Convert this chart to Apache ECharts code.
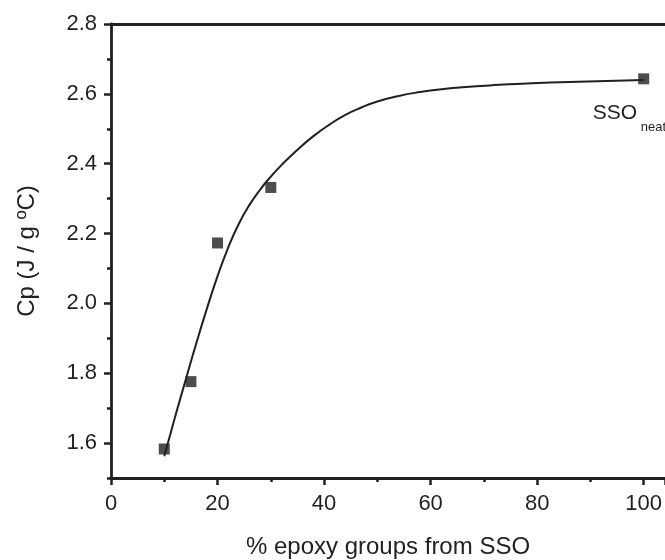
<!DOCTYPE html>
<html>
<head>
<meta charset="utf-8">
<script src="https://cdn.jsdelivr.net/npm/echarts@6/dist/echarts.min.js"></script>
<style>html,body{margin:0;padding:0;background:#fff}#c{width:665px;height:560px}</style>
</head>
<body>
<div id="c"></div>
<script>
// measured points
var pctEpoxy = [10, 15, 20, 30, 100];
var cpValues = [1.583, 1.776, 2.173, 2.332, 2.643];
// fitted curve
var fitX = [10, 12, 14, 16, 18, 20, 22, 24, 26, 28, 30, 32, 35, 38, 41, 44, 47, 50, 54, 58, 62, 66, 72, 79, 86, 93, 100];
var fitY = [1.562, 1.673, 1.780, 1.885, 1.985, 2.078, 2.160, 2.228, 2.282, 2.326, 2.363, 2.396, 2.440, 2.479, 2.512, 2.540, 2.561, 2.578, 2.594, 2.605, 2.613, 2.619, 2.625, 2.630, 2.634, 2.637, 2.640];
var yMajorTicks = [1.6, 1.8, 2.0, 2.2, 2.4, 2.6, 2.8];
var yMinorTicks = [1.5, 1.7, 1.9, 2.1, 2.3, 2.5, 2.7];
var xTitle = '% epoxy groups from SSO';
var yTitle = 'Cp (J / g ºC)';
var noteMain = 'SSO';
var noteSub = 'neat';

var ink = '#231f20';
var font = 'Liberation Sans, Arial, sans-serif';
var chart = echarts.init(document.getElementById('c'));
var pts = pctEpoxy.map(function (x, i) { return [x, cpValues[i]]; });
var fit = fitX.map(function (x, i) { return [x, fitY[i]]; });

chart.setOption({
  animation: false,
  backgroundColor: '#fff',
  grid: { left: 111, top: 24, right: 0, bottom: 82, containLabel: false, outerBoundsMode: 'none' },
  xAxis: [{
    type: 'value', min: 0, max: 104, interval: 20, position: 'bottom',
    axisLine: { show: true, onZero: false, lineStyle: { color: ink, width: 2.8 } },
    axisTick: { show: true, inside: false, length: 7, lineStyle: { color: ink, width: 2.5 } },
    minorTick: { show: true, splitNumber: 2, length: 4, lineStyle: { color: ink, width: 2.5 } },
    splitLine: { show: false },
    axisLabel: { color: ink, fontSize: 22, fontFamily: font, margin: 15,
      formatter: function (v) { return v > 100 ? '' : String(v); } },
    name: xTitle, nameLocation: 'middle', nameGap: 57,
    nameTextStyle: { color: ink, fontSize: 24, fontFamily: font }
  }, {
    type: 'value', min: 0, max: 104, position: 'top',
    axisLine: { show: true, onZero: false, lineStyle: { color: ink, width: 2.8 } },
    axisTick: { show: false }, axisLabel: { show: false }, splitLine: { show: false }
  }],
  yAxis: [{
    type: 'value', min: 1.5, max: 2.8, position: 'left',
    axisLine: { show: true, onZero: false, lineStyle: { color: ink, width: 2.8 } },
    axisTick: { show: true, inside: false, length: 7, customValues: yMajorTicks, lineStyle: { color: ink, width: 2.5 } },
    splitLine: { show: false },
    axisLabel: { color: ink, fontSize: 22, fontFamily: font, margin: 14, customValues: yMajorTicks,
      formatter: function (v) { return v.toFixed(1); } },
    name: yTitle, nameLocation: 'middle', nameGap: 72, nameRotate: 90,
    nameTextStyle: { color: ink, fontSize: 24, fontFamily: font }
  }, {
    type: 'value', min: 1.5, max: 2.8, position: 'left',
    axisLine: { show: false, onZero: false },
    axisTick: { show: true, inside: false, length: 4, customValues: yMinorTicks, lineStyle: { color: ink, width: 2.5 } },
    axisLabel: { show: false }, splitLine: { show: false }
  }],
  series: [{
    type: 'line', data: fit, xAxisIndex: 0, yAxisIndex: 0,
    smooth: true, showSymbol: false, symbol: 'none',
    lineStyle: { color: ink, width: 2 }, z: 2
  }, {
    type: 'scatter', data: pts, xAxisIndex: 0, yAxisIndex: 0,
    symbol: 'rect', symbolSize: 11,
    itemStyle: { color: ink }, z: 3
  }]
});

var p = chart.convertToPixel({ xAxisIndex: 0, yAxisIndex: 0 }, pts[pts.length - 1]);
chart.setOption({
  graphic: [{
    type: 'text', left: p[0] - 51, top: p[1] + 24,
    style: { text: noteMain, fill: ink, fontSize: 21, fontFamily: font }
  }, {
    type: 'text', left: p[0] - 3, top: p[1] + 42,
    style: { text: noteSub, fill: ink, fontSize: 13, fontFamily: font }
  }]
});
</script>
</body>
</html>
